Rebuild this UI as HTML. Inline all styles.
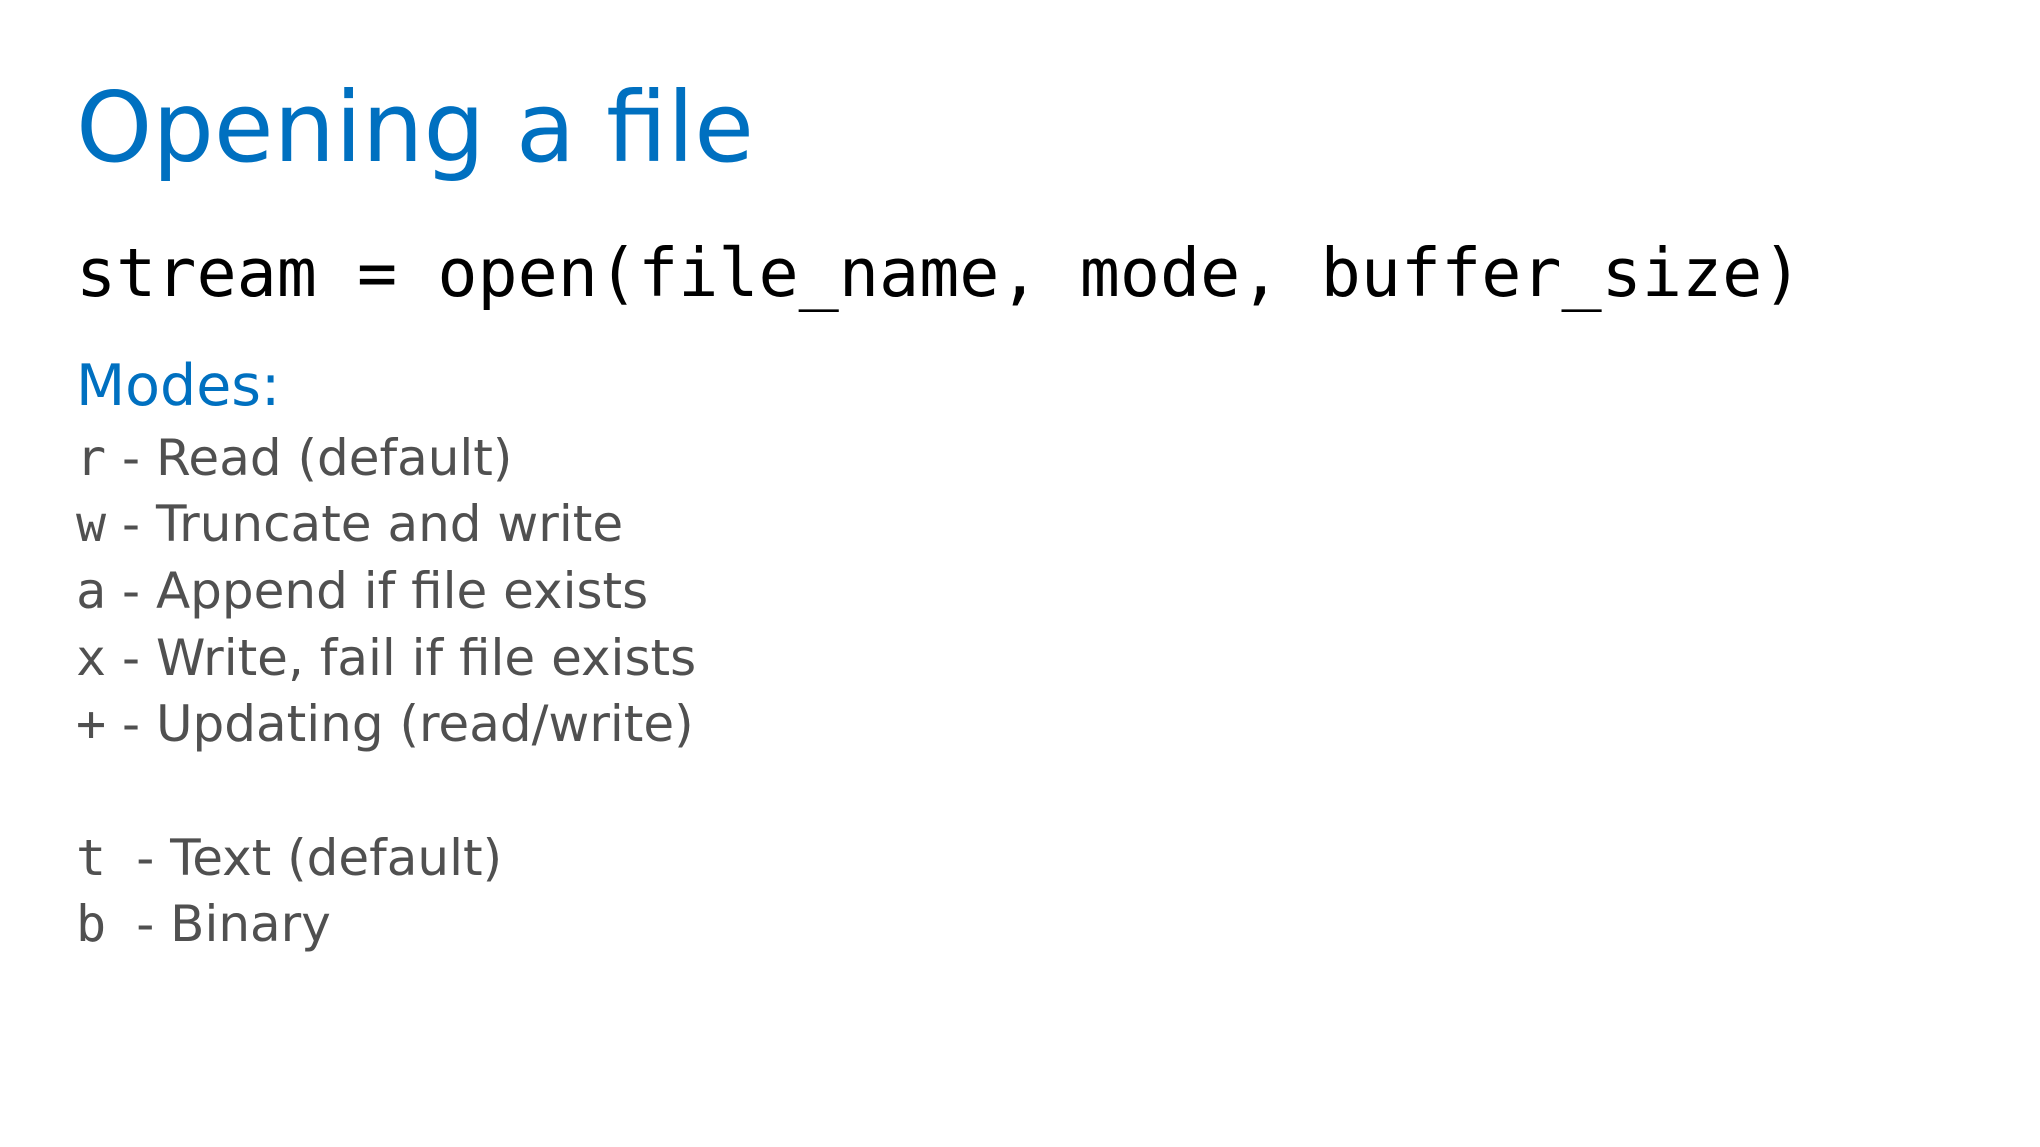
<!DOCTYPE html>
<html><head><meta charset="utf-8"><style>
html,body{margin:0;padding:0;background:#fff;}
svg{display:block;}
</style></head><body>
<svg width="2040" height="1147" xmlns="http://www.w3.org/2000/svg" style="white-space:pre">
<text x="76" y="161" font-family="DejaVu Sans, sans-serif" font-size="97" fill="#0070c0">Opening a file</text>
<text x="76" y="296" font-family="DejaVu Sans Mono, monospace" font-size="66.7" fill="#000">stream = open(file_name, mode, buffer_size)</text>
<text x="76" y="405" font-family="DejaVu Sans, sans-serif" font-size="57" fill="#0070c0">Modes:</text>
<g font-family="DejaVu Sans, sans-serif" font-size="50" fill="#505050" xml:space="preserve">
<text x="76" y="475"><tspan font-family="DejaVu Sans Mono, monospace">r</tspan> - Read (default)</text>
<text x="76" y="541"><tspan font-family="DejaVu Sans Mono, monospace">w</tspan> - Truncate and write</text>
<text x="76" y="608"><tspan font-family="DejaVu Sans Mono, monospace">a</tspan> - Append if file exists</text>
<text x="76" y="675"><tspan font-family="DejaVu Sans Mono, monospace">x</tspan> - Write, fail if file exists</text>
<text x="76" y="741"><tspan font-family="DejaVu Sans Mono, monospace">+</tspan> - Updating (read/write)</text>
<text x="76" y="875"><tspan font-family="DejaVu Sans Mono, monospace">t </tspan> - Text (default)</text>
<text x="76" y="941"><tspan font-family="DejaVu Sans Mono, monospace">b </tspan> - Binary</text>
</g>
</svg>
</body></html>
